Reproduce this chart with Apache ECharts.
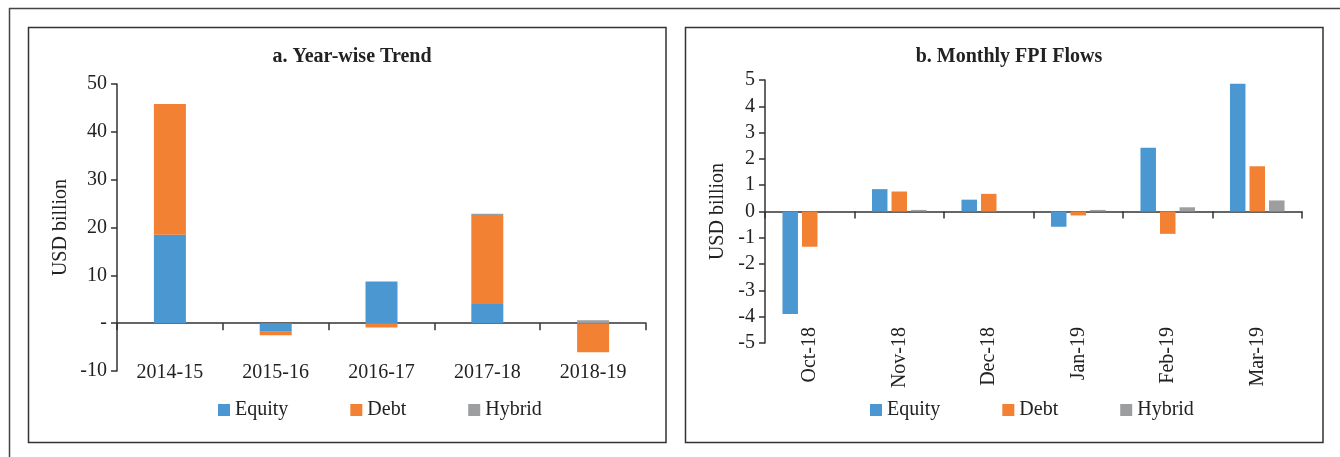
<!DOCTYPE html>
<html>
<head>
<meta charset="utf-8">
<script src="https://cdn.jsdelivr.net/npm/echarts@6/dist/echarts.min.js"></script>
<style>
    html, body { margin: 0; padding: 0; background: #fff; }
    #chart { width: 1340px; height: 457px; }
</style>
</head>
<body>
<div id="chart"></div>
<script>
// a. Year-wise Trend (stacked)
var years = ['2014-15', '2015-16', '2016-17', '2017-18', '2018-19']
var yearEquity = [18.5, -1.8, 8.7, 4.0, -0.1]
var yearDebt = [27.3, -0.7, -0.9, 18.6, -6.0]
var yearHybrid = [0, 0, 0, 0.3, 0.6]

// b. Monthly FPI Flows (grouped)
var months = ['Oct-18', 'Nov-18', 'Dec-18', 'Jan-19', 'Feb-19', 'Mar-19']
var monEquity = [-3.9, 0.85, 0.45, -0.58, 2.42, 4.86]
var monDebt = [-1.34, 0.76, 0.67, -0.15, -0.85, 1.72]
var monHybrid = [0, 0.06, 0, 0.06, 0.16, 0.42]

var colors = ['#4b97d2', '#f28133', '#9c9ea0']
var font = 'Liberation Serif'
var ink = '#222'
var lineCol = { color: '#333', width: 1.5 }

var myChart = echarts.init(document.getElementById('chart'))

var option = {
    color: colors,
    textStyle: { fontFamily: font, color: ink },
    animation: false,
    title: [
        { text: 'a. Year-wise Trend', left: 347, top: 42, textAlign: 'center',
          textStyle: { fontFamily: font, fontSize: 20, fontWeight: 'bold', color: ink } },
        { text: 'b. Monthly FPI Flows', left: 1004, top: 42, textAlign: 'center',
          textStyle: { fontFamily: font, fontSize: 20, fontWeight: 'bold', color: ink } }
    ],
    legend: [
        { left: 218, top: 400, padding: 0, itemWidth: 12, itemHeight: 12, itemGap: 62, icon: 'rect',
          data: ['Equity', 'Debt', 'Hybrid'],
          textStyle: { fontFamily: font, fontSize: 20, color: ink } },
        { left: 870, top: 400, padding: 0, itemWidth: 12, itemHeight: 12, itemGap: 62, icon: 'rect',
          data: ['Equity', 'Debt', 'Hybrid'],
          textStyle: { fontFamily: font, fontSize: 20, color: ink } }
    ],
    grid: [
        { left: 117, right: 694, top: 84, bottom: 86 },
        { left: 765, right: 38, top: 80, bottom: 114 }
    ],
    xAxis: [
        // axis line through zero, ticks only
        { type: 'category', gridIndex: 0, data: years,
          axisLine: { show: true, onZero: true, lineStyle: lineCol },
          axisTick: { show: true, inside: false, length: 7, alignWithLabel: false, lineStyle: lineCol },
          axisLabel: { show: false } },
        // labels at the bottom
        { type: 'category', gridIndex: 0, data: years, position: 'bottom', offset: -8,
          axisLine: { show: false, onZero: false }, axisTick: { show: false },
          axisLabel: { margin: 0, fontSize: 20, color: ink, fontFamily: font } },
        { type: 'category', gridIndex: 1, data: months,
          axisLine: { show: true, onZero: true, lineStyle: lineCol },
          axisTick: { show: true, inside: false, length: 7, alignWithLabel: false, lineStyle: lineCol },
          axisLabel: { show: false } },
        { type: 'category', gridIndex: 1, data: months, position: 'bottom', offset: -16,
          axisLine: { show: false, onZero: false }, axisTick: { show: false },
          axisLabel: { margin: 0, rotate: 90, fontSize: 20, color: ink, fontFamily: font } }
    ],
    yAxis: [
        { type: 'value', gridIndex: 0, min: -10, max: 50, interval: 10,
          name: 'USD billion', nameLocation: 'middle', nameGap: 46,
          nameTextStyle: { fontFamily: font, fontSize: 20, color: ink },
          axisLine: { show: true, lineStyle: lineCol },
          axisTick: { show: true, length: 6, lineStyle: lineCol },
          splitLine: { show: false },
          axisLabel: { margin: 10, fontSize: 20, color: ink, fontFamily: font,
              formatter: function (v) { return v === 0 ? '-' : v } } },
        { type: 'value', gridIndex: 1, min: -5, max: 5, interval: 1,
          name: 'USD billion', nameLocation: 'middle', nameGap: 37,
          nameTextStyle: { fontFamily: font, fontSize: 20, color: ink },
          axisLine: { show: true, lineStyle: lineCol },
          axisTick: { show: true, length: 6, lineStyle: lineCol },
          splitLine: { show: false },
          axisLabel: { margin: 10, fontSize: 20, color: ink, fontFamily: font } }
    ],
    series: [
        { name: 'Equity', type: 'bar', xAxisIndex: 0, yAxisIndex: 0, stack: 'y', barWidth: 32, data: yearEquity },
        { name: 'Debt', type: 'bar', xAxisIndex: 0, yAxisIndex: 0, stack: 'y', barWidth: 32, data: yearDebt },
        { name: 'Hybrid', type: 'bar', xAxisIndex: 0, yAxisIndex: 0, stack: 'y', barWidth: 32, data: yearHybrid },
        { name: 'Equity', type: 'bar', xAxisIndex: 2, yAxisIndex: 1, barWidth: 15.5, barGap: '26%', data: monEquity },
        { name: 'Debt', type: 'bar', xAxisIndex: 2, yAxisIndex: 1, barWidth: 15.5, barGap: '26%', data: monDebt },
        { name: 'Hybrid', type: 'bar', xAxisIndex: 2, yAxisIndex: 1, barWidth: 15.5, barGap: '26%', data: monHybrid }
    ],
    graphic: [
        // outer frame
        { type: 'line', shape: { x1: 9, y1: 8.5, x2: 1340, y2: 8.5 }, style: { stroke: '#444', lineWidth: 1.5 }, silent: true },
        { type: 'line', shape: { x1: 9.5, y1: 8, x2: 9.5, y2: 457 }, style: { stroke: '#444', lineWidth: 1.5 }, silent: true },
        // panel borders
        { type: 'rect', shape: { x: 28.5, y: 27.5, width: 637.5, height: 415 }, style: { fill: 'none', stroke: '#333', lineWidth: 1.5 }, silent: true },
        { type: 'rect', shape: { x: 685.5, y: 27.5, width: 637.5, height: 415 }, style: { fill: 'none', stroke: '#333', lineWidth: 1.5 }, silent: true }
    ]
}

myChart.setOption(option)
window.addEventListener('resize', function () {
    myChart.resize()
})
</script>
</body>
</html>
